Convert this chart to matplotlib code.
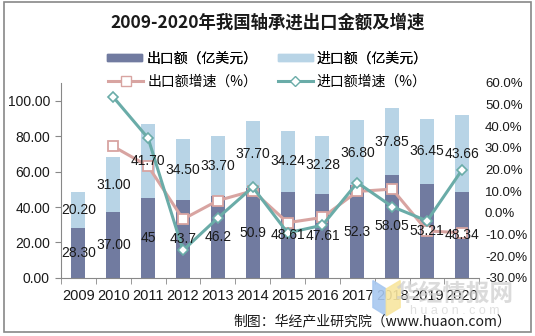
import matplotlib.pyplot as plt
import matplotlib.patches as mpatches
from matplotlib.lines import Line2D
import numpy as np

plt.rcParams['font.family'] = ['Liberation Sans', 'Noto Sans CJK SC', 'DejaVu Sans']

years = ['2009', '2010', '2011', '2012', '2013', '2014',
         '2015', '2016', '2017', '2018', '2019', '2020']
export_amt = [28.30, 37.00, 45, 43.7, 46.2, 50.9, 48.61, 47.61, 52.3, 58.05, 53.21, 48.34]
import_amt = [20.20, 31.00, 41.70, 34.50, 33.70, 37.70, 34.24, 32.28, 36.80, 37.85, 36.45, 43.66]
export_lbl = ['28.30', '37.00', '45', '43.7', '46.2', '50.9', '48.61', '47.61', '52.3', '58.05', '53.21', '48.34']
import_lbl = ['20.20', '31.00', '41.70', '34.50', '33.70', '37.70', '34.24', '32.28', '36.80', '37.85', '36.45', '43.66']
# growth rates in %, first year has none
export_growth = [np.nan, 30.7, 21.6, -2.9, 5.7, 10.2, -4.5, -2.1, 9.9, 11.0, -8.3, -9.2]
import_growth = [np.nan, 53.5, 34.5, -17.3, -2.3, 11.9, -9.2, -5.7, 14.0, 2.9, -3.7, 19.8]

c_exp = '#717ba0'
c_imp = '#b8d4e6'
c_exp_g = '#d8a4a1'
c_imp_g = '#6aaca8'
txt = '#1a1a1a'

fig = plt.figure(figsize=(5.35, 3.36), dpi=100)
ax = fig.add_axes([0.114, 0.173, 0.782, 0.580])
x = np.arange(len(years))

ax.bar(x, export_amt, width=0.4, color=c_exp, zorder=2)
ax.bar(x, import_amt, width=0.4, bottom=export_amt, color=c_imp, zorder=2)

ax.set_xlim(-0.5, len(years) - 0.5)
ax.set_ylim(0, 110)
ax.set_yticks(np.arange(0, 101, 20))
ax.set_yticklabels(['%.2f' % v for v in np.arange(0, 101, 20)], fontsize=10, color=txt)
ax.set_xticks(x)
ax.set_xticklabels(years, fontsize=10.5, color=txt)
ax.tick_params(axis='x', length=0, pad=8)
ax.set_xticks(np.arange(-0.5, len(years), 1), minor=True)
ax.tick_params(axis='x', which='minor', length=4, color='#888888')
ax.tick_params(axis='y', length=4, color='#888888', direction='out', pad=4)
for s in ['top', 'right']:
    ax.spines[s].set_visible(False)
for s in ['left', 'bottom']:
    ax.spines[s].set_color('#888888')
    ax.spines[s].set_linewidth(0.8)

ax2 = ax.twinx()
ax2.set_ylim(-30, 60)
ax2.set_yticks(np.arange(-30, 61, 10))
ax2.set_yticklabels(['%.1f%%' % v for v in np.arange(-30, 61, 10)], fontsize=9.5, color=txt)
ax2.tick_params(axis='y', length=0, pad=4)
for s in ax2.spines.values():
    s.set_visible(False)

ax2.plot(x, export_growth, color=c_exp_g, lw=2.2, marker='s', ms=7,
         mfc='white', mec=c_exp_g, mew=1.3, zorder=3)
ax2.plot(x, import_growth, color=c_imp_g, lw=2.2, marker='D', ms=5,
         mfc='white', mec=c_imp_g, mew=1.2, zorder=4)

# value labels sit on top of everything
for i in range(len(years)):
    bx, by = ax.transData.transform((x[i], export_amt[i] / 2))
    ex, ey = ax2.transData.inverted().transform((bx, by))
    ax2.text(ex, ey, export_lbl[i], ha='center', va='center', fontsize=10, color=txt, zorder=6)
    bx, by = ax.transData.transform((x[i], export_amt[i] + import_amt[i] / 2))
    ix, iy = ax2.transData.inverted().transform((bx, by))
    ax2.text(ix, iy, import_lbl[i], ha='center', va='center', fontsize=10, color=txt, zorder=6)

fig.text(0.5, 0.933, '2009-2020年我国轴承进出口金额及增速', ha='center', va='center',
         fontsize=12.5, fontweight='bold', family='Noto Sans CJK SC', color=txt)

# legend
h1 = [mpatches.Patch(color=c_exp, label='出口额（亿美元）'),
      mpatches.Patch(color=c_imp, label='进口额（亿美元）')]
h2 = [Line2D([], [], color=c_exp_g, lw=2.2, marker='s', ms=7, mfc='white', mec=c_exp_g,
             label='出口额增速（%）'),
      Line2D([], [], color=c_imp_g, lw=2.2, marker='D', ms=5, mfc='white', mec=c_imp_g,
             label='进口额增速（%）')]
leg1 = fig.legend(handles=h1, loc='center', bbox_to_anchor=(0.5, 0.826), ncol=2, frameon=False,
                  prop={'family': 'Noto Sans CJK SC', 'size': 10}, handlelength=2.5,
                  handleheight=0.4, columnspacing=1.5, handletextpad=0.3)
leg2 = fig.legend(handles=h2, loc='center', bbox_to_anchor=(0.5, 0.757), ncol=2, frameon=False,
                  prop={'family': 'Noto Sans CJK SC', 'size': 10}, handlelength=2.5,
                  columnspacing=1.5, handletextpad=0.3)
fig.add_artist(leg1)

# watermark
fig.patches.append(mpatches.Polygon([[0.697, 0.165], [0.722, 0.14], [0.722, 0.06], [0.697, 0.085]],
                                    closed=True, transform=fig.transFigure, color='#a8c8f0',
                                    alpha=0.9, zorder=5))
fig.patches.append(mpatches.Polygon([[0.722, 0.14], [0.748, 0.165], [0.748, 0.085], [0.722, 0.06]],
                                    closed=True, transform=fig.transFigure, color='#f8e6a0',
                                    alpha=0.9, zorder=5))
fig.text(0.85, 0.125, '华经情报网', ha='center', va='center', fontsize=17, fontweight='bold',
         family='Noto Sans CJK SC', color='#cccccc', alpha=0.7, zorder=7)
fig.text(0.85, 0.075, 'h u a o n . c o m', ha='center', va='center', fontsize=9,
         color='#d4d4d4', alpha=0.7, zorder=7)

fig.text(0.955, 0.045, '制图：华经产业研究院（www.huaon.com）', ha='right', va='center',
         fontsize=10, family=['Noto Sans CJK SC', 'DejaVu Sans'], color=txt, zorder=8)

fig.patches.append(mpatches.Rectangle((0.007, 0.012), 0.986, 0.982, transform=fig.transFigure,
                                      fill=False, edgecolor='#888888', lw=1.2))

fig.savefig('out.png', dpi=100)
